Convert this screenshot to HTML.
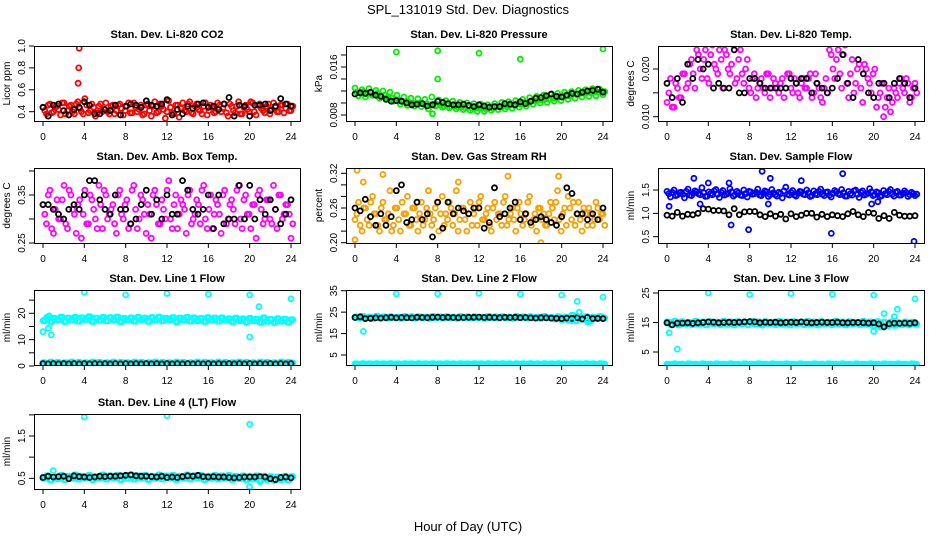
<!DOCTYPE html>
<html><head><meta charset="utf-8"><style>
body{margin:0;background:#fff;}
svg{display:block;font-family:"Liberation Sans",Arial,sans-serif;}
</style></head><body>
<svg id="chart" width="936" height="540" viewBox="0 0 936 540">
<text x="468" y="14" text-anchor="middle" font-size="13">SPL_131019  Std. Dev. Diagnostics</text>
<text x="468" y="531" text-anchor="middle" font-size="13">Hour of Day (UTC)</text>
</svg>
<script>
const hourTicks=[0,4,8,12,16,20,24];
const co2Red=[0.44,0.38,0.47,0.40,0.45,0.37,0.48,0.41,0.46,0.38,0.49,0.40,0.52,0.39,0.47,0.36,0.45,0.40,0.48,0.38,0.46,0.41,0.47,0.37,0.45,0.39,0.48,0.40,0.46,0.38,0.47,0.36,0.49,0.40,0.45,0.34,0.50,0.39,0.46,0.35,0.48,0.40,0.49,0.38,0.47,0.41,0.45,0.37,0.46,0.39,0.48,0.40,0.47,0.36,0.45,0.39,0.49,0.38,0.46,0.40,0.48,0.37,0.47,0.41,0.45,0.38,0.48,0.40,0.46,0.39,0.47,0.41];
const co2Red2=[0.41,0.46,0.39,0.44,0.42,0.48,0.38,0.45,0.40,0.47,0.43,0.38,0.46,0.41,0.44,0.39,0.47,0.42,0.40,0.45,0.38,0.46,0.43,0.41,0.48,0.39,0.44,0.42,0.37,0.46,0.41,0.45,0.39,0.47,0.42,0.40,0.44,0.38,0.46,0.43,0.41,0.47,0.39,0.45,0.42,0.38,0.48,0.41,0.44,0.40,0.46,0.43,0.39,0.47,0.41,0.45,0.38,0.44,0.42,0.49,0.40,0.46,0.43,0.39,0.47,0.42,0.44,0.40,0.46,0.43,0.41,0.45];
const co2Out=[[3.5,0.98],[3.45,0.8],[3.4,0.66]];
const co2Blk=[0.44,0.36,0.46,0.47,0.41,0.37,0.42,0.44,0.49,0.46,0.38,0.38,0.42,0.41,0.46,0.37,0.45,0.47,0.46,0.44,0.50,0.46,0.45,0.47,0.51,0.37,0.42,0.38,0.45,0.43,0.47,0.48,0.44,0.45,0.42,0.47,0.53,0.36,0.46,0.45,0.36,0.46,0.46,0.47,0.41,0.45,0.52,0.47,0.45];
const presGrn=[0.0125,0.0112,0.0122,0.0110,0.0124,0.0113,0.0121,0.0108,0.0120,0.0109,0.0118,0.0103,0.0113,0.0098,0.0110,0.0096,0.0108,0.0095,0.0107,0.0094,0.0106,0.0090,0.0110,0.0095,0.0105,0.0093,0.0104,0.0092,0.0103,0.0090,0.0101,0.0089,0.0100,0.0088,0.0099,0.0086,0.0098,0.0086,0.0097,0.0088,0.0099,0.0089,0.0101,0.0090,0.0102,0.0091,0.0104,0.0093,0.0106,0.0095,0.0109,0.0098,0.0111,0.0100,0.0113,0.0101,0.0114,0.0103,0.0116,0.0104,0.0118,0.0106,0.0119,0.0108,0.0121,0.0110,0.0122,0.0111,0.0124,0.0112,0.0123,0.0114];
const presGrn2=[0.0118,0.0116,0.0119,0.0115,0.0117,0.0114,0.0116,0.0112,0.0113,0.0110,0.0108,0.0106,0.0105,0.0103,0.0102,0.0101,0.0100,0.0099,0.0100,0.0098,0.0099,0.0097,0.0098,0.0096,0.0097,0.0095,0.0096,0.0094,0.0095,0.0093,0.0094,0.0092,0.0093,0.0091,0.0092,0.0091,0.0092,0.0090,0.0093,0.0091,0.0094,0.0093,0.0095,0.0094,0.0097,0.0096,0.0099,0.0098,0.0101,0.0100,0.0103,0.0103,0.0105,0.0105,0.0107,0.0106,0.0109,0.0108,0.0111,0.0110,0.0113,0.0112,0.0115,0.0114,0.0116,0.0116,0.0118,0.0117,0.0119,0.0118,0.0120,0.0119];
const presOut=[[4,0.0185],[8,0.0187],[8,0.014],[12,0.0183],[16,0.0173],[20,0.0203],[24,0.019],[7.5,0.0082]];
const presBlk=[0.0115,0.0117,0.0116,0.0118,0.0113,0.0111,0.0106,0.0103,0.0104,0.0103,0.0100,0.0097,0.0098,0.0099,0.0095,0.0097,0.0103,0.0101,0.0099,0.0097,0.0097,0.0098,0.0096,0.0094,0.0097,0.0095,0.0093,0.0094,0.0094,0.0099,0.0098,0.0097,0.0102,0.0099,0.0103,0.0108,0.0109,0.0112,0.0115,0.0111,0.0110,0.0113,0.0116,0.0115,0.0118,0.0120,0.0121,0.0123,0.0118];
const tempMag=[0.013,0.018,0.012,0.016,0.014,0.019,0.017,0.022,0.016,0.023,0.018,0.024,0.017,0.025,0.020,0.024,0.016,0.023,0.019,0.025,0.018,0.024,0.017,0.022,0.015,0.019,0.016,0.018,0.015,0.019,0.016,0.017,0.015,0.018,0.016,0.019,0.015,0.017,0.014,0.018,0.016,0.019,0.015,0.017,0.014,0.016,0.015,0.023,0.018,0.024,0.016,0.025,0.014,0.022,0.017,0.021,0.013,0.020,0.017,0.019,0.012,0.015,0.010,0.014,0.011,0.016,0.014,0.018,0.015,0.017,0.014,0.017];
const tempMag2=[0.015,0.012,0.017,0.014,0.019,0.016,0.021,0.019,0.024,0.020,0.022,0.018,0.023,0.021,0.019,0.022,0.024,0.020,0.021,0.017,0.022,0.019,0.020,0.016,0.018,0.014,0.017,0.016,0.019,0.014,0.018,0.016,0.017,0.014,0.019,0.016,0.018,0.015,0.017,0.016,0.018,0.014,0.019,0.016,0.013,0.018,0.024,0.020,0.022,0.019,0.023,0.017,0.019,0.015,0.020,0.016,0.021,0.018,0.015,0.020,0.014,0.017,0.012,0.016,0.013,0.015,0.017,0.016,0.018,0.013,0.016,0.015];
const tempBlk=[0.017,0.014,0.018,0.013,0.021,0.018,0.022,0.020,0.021,0.016,0.017,0.016,0.016,0.024,0.015,0.015,0.018,0.018,0.017,0.016,0.016,0.016,0.016,0.016,0.018,0.017,0.018,0.018,0.015,0.017,0.016,0.015,0.016,0.018,0.023,0.017,0.014,0.022,0.019,0.015,0.014,0.017,0.017,0.014,0.017,0.018,0.017,0.014,0.016];
const ambMag=[0.33,0.29,0.36,0.27,0.34,0.30,0.37,0.28,0.35,0.31,0.33,0.26,0.36,0.29,0.34,0.30,0.37,0.28,0.35,0.31,0.33,0.27,0.36,0.30,0.34,0.29,0.37,0.28,0.35,0.31,0.33,0.26,0.36,0.29,0.34,0.30,0.38,0.28,0.35,0.31,0.33,0.27,0.36,0.30,0.34,0.29,0.37,0.28,0.35,0.31,0.33,0.27,0.36,0.30,0.34,0.29,0.37,0.28,0.35,0.31,0.33,0.26,0.36,0.29,0.34,0.30,0.37,0.28,0.35,0.31,0.33,0.26];
const ambMag2=[0.31,0.35,0.28,0.32,0.30,0.34,0.29,0.36,0.32,0.27,0.34,0.31,0.29,0.35,0.32,0.28,0.33,0.36,0.30,0.32,0.29,0.35,0.31,0.33,0.28,0.36,0.32,0.30,0.34,0.27,0.31,0.35,0.33,0.29,0.32,0.36,0.30,0.33,0.28,0.34,0.32,0.35,0.29,0.31,0.33,0.36,0.30,0.32,0.28,0.34,0.31,0.35,0.29,0.33,0.32,0.36,0.30,0.34,0.31,0.28,0.33,0.35,0.32,0.30,0.34,0.29,0.32,0.35,0.30,0.33,0.31,0.29];
const ambBlk=[0.33,0.33,0.32,0.31,0.30,0.32,0.33,0.32,0.35,0.38,0.38,0.34,0.32,0.31,0.35,0.32,0.32,0.29,0.30,0.33,0.36,0.31,0.34,0.30,0.35,0.31,0.31,0.38,0.36,0.32,0.31,0.32,0.35,0.28,0.35,0.29,0.30,0.30,0.37,0.30,0.37,0.30,0.34,0.31,0.34,0.32,0.29,0.31,0.34];
const rhOrg=[0.24,0.27,0.22,0.26,0.23,0.28,0.25,0.22,0.27,0.24,0.29,0.23,0.26,0.22,0.25,0.28,0.23,0.26,0.22,0.27,0.24,0.29,0.23,0.26,0.22,0.28,0.25,0.27,0.23,0.29,0.24,0.26,0.22,0.27,0.25,0.23,0.28,0.24,0.26,0.22,0.27,0.25,0.23,0.28,0.24,0.26,0.22,0.27,0.23,0.25,0.28,0.24,0.22,0.26,0.25,0.23,0.27,0.24,0.29,0.22,0.26,0.28,0.24,0.23,0.27,0.22,0.25,0.26,0.23,0.27,0.24,0.25];
const rhOrg2=[0.25,0.23,0.26,0.24,0.27,0.25,0.23,0.26,0.24,0.25,0.22,0.26,0.24,0.27,0.25,0.23,0.26,0.24,0.25,0.23,0.26,0.25,0.24,0.27,0.25,0.23,0.24,0.26,0.25,0.22,0.26,0.24,0.25,0.23,0.26,0.27,0.24,0.25,0.23,0.26,0.24,0.25,0.27,0.23,0.25,0.24,0.26,0.25,0.24,0.27,0.23,0.25,0.26,0.24,0.23,0.25,0.26,0.27,0.24,0.25,0.23,0.26,0.27,0.25,0.24,0.26,0.23,0.25,0.24,0.26,0.25,0.23];
const rhOut=[[0.2,0.325],[0,0.205],[2.7,0.318],[10,0.305],[14.8,0.315],[19.7,0.315],[18,0.20],[0.8,0.305]];
const rhBlk=[0.26,0.255,0.275,0.245,0.23,0.25,0.23,0.245,0.29,0.30,0.235,0.24,0.27,0.24,0.25,0.21,0.27,0.225,0.27,0.25,0.26,0.255,0.25,0.26,0.26,0.225,0.235,0.295,0.245,0.25,0.26,0.27,0.24,0.25,0.235,0.24,0.245,0.24,0.235,0.23,0.245,0.295,0.285,0.25,0.25,0.24,0.25,0.24,0.26];
const sfBlue=[1.47,1.35,1.50,1.40,1.45,1.33,1.52,1.38,1.48,1.42,1.55,1.36,1.46,1.40,1.51,1.34,1.49,1.41,1.53,1.37,1.47,1.39,1.50,1.35,1.46,1.42,1.52,1.38,1.48,1.36,1.51,1.40,1.45,1.33,1.56,1.39,1.49,1.37,1.47,1.41,1.50,1.36,1.48,1.40,1.52,1.38,1.46,1.35,1.49,1.42,1.51,1.37,1.47,1.39,1.50,1.34,1.48,1.41,1.53,1.38,1.46,1.36,1.49,1.40,1.51,1.37,1.47,1.39,1.48,1.36,1.45,1.38];
const sfBlue2=[1.42,1.45,1.38,1.44,1.41,1.47,1.39,1.43,1.46,1.40,1.44,1.37,1.42,1.48,1.41,1.45,1.39,1.43,1.46,1.40,1.44,1.38,1.42,1.47,1.41,1.45,1.39,1.43,1.46,1.40,1.44,1.37,1.42,1.48,1.41,1.45,1.39,1.43,1.46,1.40,1.44,1.38,1.42,1.47,1.41,1.45,1.39,1.43,1.46,1.40,1.44,1.37,1.42,1.48,1.41,1.45,1.39,1.43,1.46,1.40,1.44,1.38,1.42,1.47,1.41,1.45,1.39,1.43,1.44,1.40,1.42,1.41];
const sfOut=[[0.2,1.15],[2.6,1.75],[3.2,1.2],[4,1.65],[6.2,0.75],[7.9,0.65],[6,1.65],[9.2,1.9],[10,1.75],[9.8,1.2],[13,1.7],[15.9,0.57],[17,1.85],[23.9,0.4],[19.8,1.2],[20.4,1.25]];
const sfBlk=[0.96,0.94,1.02,0.94,0.98,0.97,1.0,1.1,1.09,1.06,1.06,1.05,0.97,1.1,0.97,1.03,1.04,1.04,0.97,0.93,0.99,0.94,0.98,0.88,0.99,0.93,0.96,1.0,1.0,0.92,0.98,0.93,0.97,0.95,0.93,0.99,1.04,0.97,0.93,1.02,1.0,0.89,0.95,0.89,1.02,0.96,0.94,0.94,0.95];
const l1Cyan=[17.2,18.4,16.8,18.1,17.5,18.6,16.9,18.2,17.4,18.5,17.0,18.3,17.6,18.7,16.9,18.2,17.3,18.5,17.1,18.4,17.5,18.6,16.8,18.1,17.4,18.3,17.0,18.5,17.6,18.2,16.9,18.4,17.3,18.6,17.1,18.1,17.5,18.4,16.8,18.2,17.4,18.5,17.0,18.3,17.2,18.1,16.9,18.4,17.3,18.2,17.0,18.3,17.4,18.0,16.8,18.2,17.1,17.9,16.7,18.1,17.2,17.8,16.6,18.3,16.9,17.7,16.5,18.0,17.0,17.8,16.6,17.6];
const l1Base=[1.3,1.0,1.5,1.1,1.4,0.9,1.3,1.2,1.5,1.0,1.4,1.1,1.3,0.9,1.5,1.2,1.4,1.0,1.3,1.1,1.5,0.9,1.4,1.2,1.3,1.0,1.5,1.1,1.4,0.9,1.3,1.2,1.5,1.0,1.4,1.1,1.3,0.9,1.5,1.2,1.4,1.0,1.3,1.1,1.5,0.9,1.4,1.2,1.3,1.0,1.5,1.1,1.4,0.9,1.3,1.2,1.5,1.0,1.4,1.1,1.3,0.9,1.5,1.2,1.4,1.0,1.3,1.1,1.5,0.9,1.4,1.2];
const l1Out=[[0,13],[0.5,14.3],[0.8,11.8],[0.6,19],[4,28],[8,27],[12,27.5],[16,27.3],[20,27],[20.9,22.5],[20,11],[24,25.5]];
const l1Blk=[0.9,0.8,0.9,0.8,0.9,0.8,0.9,0.8,0.9,0.8,0.9,0.8,0.9,0.8,0.9,0.8,0.9,0.8,0.9,0.8,0.9,0.8,0.9,0.8,0.9,0.8,0.9,0.8,0.9,0.8,0.9,0.8,0.9,0.8,0.9,0.8,0.9,0.8,0.9,0.8,0.9,0.8,0.9,0.8,0.9,0.8,0.9,0.8,0.9];
const l2Cyan=[22.8,22.2,23.0,22.4,22.7,22.1,23.1,22.3,22.8,22.2,22.9,22.4,22.7,22.1,23.0,22.3,22.8,22.2,22.9,22.4,22.7,22.1,23.0,22.3,22.8,22.2,22.9,22.4,22.7,22.1,23.0,22.3,22.8,22.2,22.9,22.4,22.7,22.1,23.0,22.3,22.8,22.2,22.9,22.4,22.7,22.1,23.0,22.3,22.8,22.2,22.9,22.4,22.7,22.1,23.0,22.3,22.6,21.8,22.9,21.5,22.7,21.2,23.5,21.0,22.8,21.6,22.9,20.8,22.7,21.9,23.0,22.3];
const l2Base=[0.9,0.7,1.0,0.8,0.9,0.6,1.0,0.8,0.9,0.7,1.0,0.8,0.9,0.6,1.0,0.8,0.9,0.7,1.0,0.8,0.9,0.6,1.0,0.8,0.9,0.7,1.0,0.8,0.9,0.6,1.0,0.8,0.9,0.7,1.0,0.8,0.9,0.6,1.0,0.8,0.9,0.7,1.0,0.8,0.9,0.6,1.0,0.8,0.9,0.7,1.0,0.8,0.9,0.6,1.0,0.8,0.9,0.7,1.0,0.8,0.9,0.6,1.0,0.8,0.9,0.7,1.0,0.8,0.9,0.6,1.0,0.8];
const l2Out=[[0.8,16],[4,33.5],[8,33.5],[12,33.8],[16,33.4],[20,33],[21.5,30],[21.7,25],[24,32],[21,21],[22.5,20.5]];
const l2Blk=[22.5,22.8,22.0,22.1,22.3,22.2,22.4,22.6,22.3,22.5,22.4,22.3,22.6,22.5,22.4,22.6,22.7,22.5,22.6,22.5,22.4,22.5,22.6,22.6,22.7,22.5,22.6,22.5,22.4,22.6,22.5,22.6,22.4,22.5,22.3,22.2,22.4,22.3,22.2,22.1,22.0,22.2,22.1,22.4,21.8,22.5,22.0,22.1,22.0];
const l3Cyan=[15.2,14.4,15.4,14.2,15.3,14.5,15.1,14.3,15.4,14.4,15.2,14.2,15.3,14.5,15.1,14.3,15.4,14.4,15.2,14.2,15.3,14.5,15.1,14.3,15.4,14.4,15.2,14.2,15.3,14.5,15.1,14.3,15.4,14.4,15.2,14.2,15.3,14.5,15.1,14.3,15.4,14.4,15.2,14.2,15.3,14.5,15.1,14.3,15.4,14.4,15.2,14.2,15.3,14.5,15.1,14.3,15.4,14.4,15.2,13.8,15.3,13.5,15.1,13.9,15.2,14.0,15.0,14.3,15.2,14.2,15.1,14.4];
const l3Base=[0.9,0.7,1.0,0.8,0.9,0.6,1.0,0.8,0.9,0.7,1.0,0.8,0.9,0.6,1.0,0.8,0.9,0.7,1.0,0.8,0.9,0.6,1.0,0.8,0.9,0.7,1.0,0.8,0.9,0.6,1.0,0.8,0.9,0.7,1.0,0.8,0.9,0.6,1.0,0.8,0.9,0.7,1.0,0.8,0.9,0.6,1.0,0.8,0.9,0.7,1.0,0.8,0.9,0.6,1.0,0.8,0.9,0.7,1.0,0.8,0.9,0.6,1.0,0.8,0.9,0.7,1.0,0.8,0.9,0.6,1.0,0.8];
const l3Out=[[0.2,11.5],[1,6],[4,25],[8,24.5],[12,24.8],[16,24.6],[20,24.3],[20,12],[21,18],[22,17],[22.3,19.5],[24,23]];
const l3Blk=[14.9,14.2,14.8,14.8,14.9,14.7,14.9,15.0,15.2,15.1,14.9,15.0,15.1,15.0,15.1,15.2,15.3,15.2,14.9,15.1,15.0,15.1,14.9,15.0,15.1,15.0,15.2,15.0,14.9,15.0,15.1,15.0,15.0,15.1,14.9,14.9,15.0,15.0,14.9,14.8,14.9,14.5,13.5,14.6,14.8,14.7,14.8,14.7,14.9];
const l4Cyan=[0.50,0.56,0.46,0.54,0.49,0.57,0.47,0.55,0.50,0.58,0.48,0.55,0.51,0.57,0.47,0.54,0.50,0.58,0.48,0.56,0.51,0.57,0.47,0.55,0.50,0.58,0.48,0.56,0.51,0.57,0.47,0.55,0.50,0.58,0.48,0.56,0.51,0.57,0.47,0.55,0.50,0.58,0.48,0.56,0.51,0.57,0.47,0.55,0.50,0.57,0.48,0.56,0.50,0.57,0.47,0.55,0.49,0.56,0.46,0.55,0.48,0.56,0.44,0.55,0.47,0.54,0.45,0.53,0.47,0.55,0.46,0.54];
const l4Out=[[4,1.95],[12,1.98],[20,1.78],[1,0.68],[20,0.3],[21,0.42]];
const l4Blk=[0.52,0.55,0.53,0.54,0.55,0.49,0.56,0.54,0.53,0.52,0.53,0.55,0.54,0.55,0.55,0.56,0.57,0.58,0.56,0.55,0.55,0.54,0.53,0.55,0.52,0.53,0.52,0.54,0.56,0.55,0.57,0.54,0.53,0.54,0.53,0.53,0.52,0.51,0.52,0.53,0.53,0.53,0.54,0.53,0.49,0.47,0.52,0.53,0.51];

const svg=document.getElementById('chart');
const NS='http://www.w3.org/2000/svg';
function mk(tag,attrs,parent){const e=document.createElementNS(NS,tag);for(const k in attrs)e.setAttribute(k,attrs[k]);(parent||svg).appendChild(e);return e;}

const cols=[34,346,658], rows=[46,168,290,414], PW=266, PH=75;
const panels=[
 {t:'Stan. Dev. Li-820 CO2',yl:'Licor ppm',c:0,r:0,a:[0.4,111.7,1.0,46],ticks:[0.4,0.6,0.8,1.0],lab:['0.4','0.6','0.8','1.0'],series:[[co2Red,'#ff0000',0],[co2Red2,'#ff0000',0.17],[co2Blk,'#000',0]],out:[co2Out,'#ff0000']},
 {t:'Stan. Dev. Li-820 Pressure',yl:'kPa',c:1,r:0,a:[0.008,115,0.016,67],ticks:[0.008,0.010,0.012,0.014,0.016,0.018,0.020],lab:['0.008','','','','0.016','',''],series:[[presGrn,'#00ee00',0],[presGrn2,'#00ee00',0.17],[presBlk,'#000',0]],out:[presOut,'#00ee00']},
 {t:'Stan. Dev. Li-820 Temp.',yl:'degrees C',c:2,r:0,a:[0.010,116.7,0.020,69],ticks:[0.010,0.015,0.020],lab:['0.010','','0.020'],series:[[tempMag,'#ff00ff',0],[tempMag2,'#ff00ff',0.17],[tempBlk,'#000',0]],out:null},
 {t:'Stan. Dev. Amb. Box Temp.',yl:'degrees C',c:0,r:1,a:[0.25,243,0.35,195],ticks:[0.25,0.30,0.35,0.40],lab:['0.25','','0.35',''],series:[[ambMag,'#ff00ff',0],[ambMag2,'#ff00ff',0.17],[ambBlk,'#000',0]],out:null},
 {t:'Stan. Dev. Gas Stream RH',yl:'percent',c:1,r:1,a:[0.20,242.7,0.32,173.3],ticks:[0.20,0.22,0.24,0.26,0.28,0.30,0.32],lab:['0.20','','','0.26','','','0.32'],series:[[rhOrg,'#f7a000',0],[rhOrg2,'#f7a000',0.17],[rhBlk,'#000',0]],out:[rhOut,'#f7a000']},
 {t:'Stan. Dev. Sample Flow',yl:'ml/min',c:2,r:1,a:[0.5,236.7,1.5,190],ticks:[0.5,1.0,1.5],lab:['0.5','1.0','1.5'],series:[[sfBlue,'#0000ff',0],[sfBlue2,'#0000ff',0.17],[sfBlk,'#000',0]],out:[sfOut,'#0000ff']},
 {t:'Stan. Dev. Line 1 Flow',yl:'ml/min',c:0,r:2,a:[0,366,20,313.3],ticks:[0,5,10,15,20,25],lab:['0','','10','','20',''],series:[[l1Cyan,'#00ffff',0],[l1Cyan,'#00ffff',0.17],[l1Base,'#00ffff',0],[l1Base,'#00ffff',0.17],[l1Blk,'#000',0]],out:[l1Out,'#00ffff']},
 {t:'Stan. Dev. Line 2 Flow',yl:'ml/min',c:1,r:2,a:[5,355,35,290.7],ticks:[5,15,25,35],lab:['5','15','25','35'],series:[[l2Cyan,'#00ffff',0],[l2Cyan,'#00ffff',0.17],[l2Base,'#00ffff',0],[l2Base,'#00ffff',0.17],[l2Blk,'#000',0]],out:[l2Out,'#00ffff']},
 {t:'Stan. Dev. Line 3 Flow',yl:'ml/min',c:2,r:2,a:[5,352,25,293],ticks:[5,15,25],lab:['5','15','25'],series:[[l3Cyan,'#00ffff',0],[l3Cyan,'#00ffff',0.17],[l3Base,'#00ffff',0],[l3Base,'#00ffff',0.17],[l3Blk,'#000',0]],out:[l3Out,'#00ffff']},
 {t:'Stan. Dev. Line 4 (LT) Flow',yl:'ml/min',c:0,r:3,a:[0.5,478.3,1.5,436],ticks:[0.5,1.0,1.5,2.0],lab:['0.5','','1.5',''],series:[[l4Cyan,'#00ffff',0],[l4Cyan,'#00ffff',0.17],[l4Blk,'#000',0]],out:[l4Out,'#00ffff']}
];

panels.forEach((p,pi)=>{
  const L=cols[p.c], T=rows[p.r], B=T+PH;
  const g=mk('g',{});
  
  
  const x=h=>L+9+h*(248/24);
  const y=v=>p.a[1]+(v-p.a[0])*(p.a[3]-p.a[1])/(p.a[2]-p.a[0]);
  const clip=mk('clipPath',{id:'cp'+pi},g);
  mk('rect',{x:L,y:T,width:PW,height:PH},clip);
  const pg=mk('g',{'clip-path':'url(#cp'+pi+')'},g);
  function dot(h,v,col){
    const c=mk('circle',{cx:x(h).toFixed(1),cy:y(v).toFixed(1),r:2.5,fill:'none',stroke:col,'stroke-width':1.8},pg);
    
    
  }
  p.series.forEach(([arr,col,off])=>{
    const n=arr.length;
    arr.forEach((v,i)=>{const h=i*24/(n-1)+off; if(h<=24.2) dot(h,v,col);});
  });
  if(p.out) p.out[0].forEach(([h,v])=>dot(h,v,p.out[1]));
  const box=mk('rect',{x:L+0.5,y:T+0.5,width:PW,height:PH,fill:'none',stroke:'#000','stroke-width':1},g);
  
  
  const tt=mk('text',{x:L+PW/2,y:T-8,'text-anchor':'middle','font-size':11,'font-weight':'bold'},g);
  tt.textContent=p.t;
  
  
  const yt=mk('text',{transform:`translate(${L-24},${(T+B)/2}) rotate(-90)`,'text-anchor':'middle','font-size':10},g);
  yt.textContent=p.yl;
  
  
  p.ticks.forEach((v,i)=>{
    const yy=y(v); if(yy<T-1||yy>B+1) return;
    mk('line',{x1:L-5,x2:L,y1:yy,y2:yy,stroke:'#000'},g);
    if(p.lab[i]){
      const tl=mk('text',{transform:`translate(${L-9},${yy}) rotate(-90)`,'text-anchor':'middle','font-size':10},g);
      tl.textContent=p.lab[i];
      
      
    }
  });
  hourTicks.forEach(h=>{
    mk('line',{x1:x(h),x2:x(h),y1:B,y2:B+5,stroke:'#000'},g);
    const xl=mk('text',{x:x(h),y:B+19,'text-anchor':'middle','font-size':10},g);
    xl.textContent=h;
    
    
  });
});
</script>
</body></html>
